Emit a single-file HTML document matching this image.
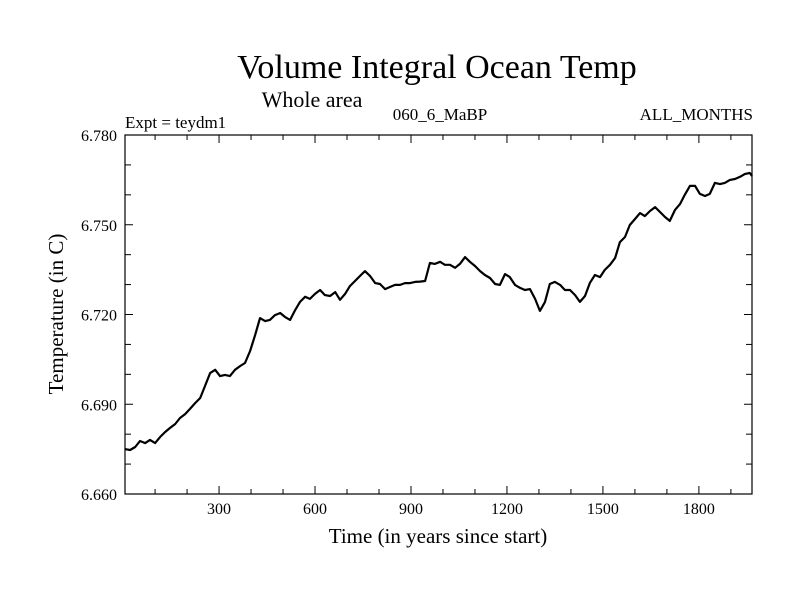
<!DOCTYPE html>
<html><head><meta charset="utf-8"><style>
html,body{margin:0;padding:0;background:#fff;}
svg{display:block;font-family:"Liberation Serif",serif;}
</style></head><body>
<svg id="chart" width="800" height="600" viewBox="0 0 800 600">
<rect x="0" y="0" width="800" height="600" fill="#fff"/>
<text x="437" y="78" font-size="34" text-anchor="middle">Volume Integral Ocean Temp</text>
<text x="312" y="107" font-size="22" text-anchor="middle">Whole area</text>
<text x="125" y="128" font-size="17">Expt = teydm1</text>
<text x="440" y="120" font-size="17" text-anchor="middle">060_6_MaBP</text>
<text x="753" y="120" font-size="17" text-anchor="end">ALL_MONTHS</text>
<text x="438" y="543" font-size="21" text-anchor="middle">Time (in years since start)</text>
<text transform="translate(63,314) rotate(-90)" font-size="21" text-anchor="middle">Temperature (in C)</text>
<g id="axes"></g>
<g id="plot"></g>
<rect x="125" y="135" width="627" height="359" fill="none" stroke="#000" stroke-width="1.2"/>
</svg>
<script>
const years=[6,22,38,53,69,84,100,116,131,147,163,178,194,209,225,241,256,272,288,303,319,334,350,366,381,397,413,428,444,459,475,491,506,522,538,553,569,584,600,616,631,647,663,678,694,709,725,741,756,772,788,803,819,834,850,866,881,897,913,928,944,959,975,991,1006,1022,1038,1053,1069,1084,1100,1116,1131,1147,1163,1178,1194,1209,1225,1241,1256,1272,1288,1303,1319,1334,1350,1366,1381,1397,1413,1428,1444,1459,1475,1491,1506,1522,1538,1553,1569,1584,1600,1616,1631,1647,1663,1678,1694,1709,1725,1741,1756,1772,1788,1803,1819,1834,1850,1866,1881,1897,1913,1928,1944,1959,1966];
const temps=[6.6750,6.6747,6.6757,6.6777,6.6770,6.6781,6.6770,6.6791,6.6807,6.6821,
6.6834,6.6854,6.6867,6.6884,6.6904,6.6921,6.6961,6.7004,6.7015,6.6994,
6.6998,6.6994,6.7015,6.7028,6.7038,6.7078,6.7132,6.7188,6.7178,6.7182,
6.7198,6.7205,6.7192,6.7182,6.7215,6.7242,6.7259,6.7252,6.7269,6.7282,
6.7265,6.7262,6.7275,6.7249,6.7269,6.7295,6.7312,6.7329,6.7345,6.7329,
6.7305,6.7302,6.7285,6.7292,6.7299,6.7299,6.7305,6.7305,6.7309,6.7310,
6.7312,6.7372,6.7369,6.7376,6.7366,6.7366,6.7356,6.7369,6.7392,6.7376,
6.7362,6.7345,6.7332,6.7322,6.7302,6.7299,6.7335,6.7325,6.7299,6.7289,
6.7282,6.7285,6.7252,6.7212,6.7242,6.7302,6.7309,6.7299,6.7282,6.7282,
6.7265,6.7242,6.7262,6.7305,6.7332,6.7325,6.7349,6.7366,6.7389,6.7442,
6.7459,6.7499,6.7519,6.7539,6.7529,6.7546,6.7559,6.7543,6.7526,6.7513,
6.7549,6.7569,6.7600,6.7630,6.7630,6.7603,6.7596,6.7603,6.7640,6.7636,
6.7640,6.7650,6.7653,6.7660,6.7670,6.7673,6.7663,6.7650];
const xTickLabels=[300,600,900,1200,1500,1800];
const yTickLabels=["6.660","6.690","6.720","6.750","6.780"];

const NS="http://www.w3.org/2000/svg";
const X0=125,X1=752,Y0=494,Y1=135,XMIN=6,XMAX=1966,YMIN=6.66,YMAX=6.78;
const xs=v=>X0+(v-XMIN)/(XMAX-XMIN)*(X1-X0);
const ys=v=>Y0-(v-YMIN)/(YMAX-YMIN)*(Y0-Y1);
const axes=document.getElementById('axes'),plot=document.getElementById('plot');
function line(x1,y1,x2,y2){const l=document.createElementNS(NS,'line');l.setAttribute('x1',x1);l.setAttribute('y1',y1);l.setAttribute('x2',x2);l.setAttribute('y2',y2);l.setAttribute('stroke','#000');l.setAttribute('stroke-width','1');axes.appendChild(l);return l;}
for(let t=100;t<XMAX;t+=100){const x=xs(t);const major=t%300===0;const L=major?8:5;
const a=line(x,Y0,x,Y0-L);
const b=line(x,Y1,x,Y1+L);}
for(let i=0;i<=12;i++){const v=YMIN+i*0.01;const y=ys(v);const L=(i%3===0)?8:6;
const a=line(X0,y,X0+L,y);
const b=line(X1,y,X1-L,y);}
xTickLabels.forEach(t=>{const tx=document.createElementNS(NS,'text');tx.setAttribute('x',xs(t));tx.setAttribute('y',514);tx.setAttribute('font-size','16');tx.setAttribute('text-anchor','middle');tx.textContent=t;


axes.appendChild(tx);});
yTickLabels.forEach(s=>{const tx=document.createElementNS(NS,'text');tx.setAttribute('x',117);tx.setAttribute('y',ys(parseFloat(s))+6);tx.setAttribute('font-size','16');tx.setAttribute('text-anchor','end');tx.textContent=s;


axes.appendChild(tx);});
const n=Math.min(years.length,temps.length);let d='';
for(let i=0;i<n;i++){d+=(i?'L':'M')+xs(years[i]).toFixed(1)+','+ys(temps[i]).toFixed(1);}
const p=document.createElementNS(NS,'path');p.setAttribute('d',d);p.setAttribute('fill','none');p.setAttribute('stroke','#000');p.setAttribute('stroke-width','2.2');p.setAttribute('stroke-linejoin','round');


plot.appendChild(p);
</script>
</body></html>
